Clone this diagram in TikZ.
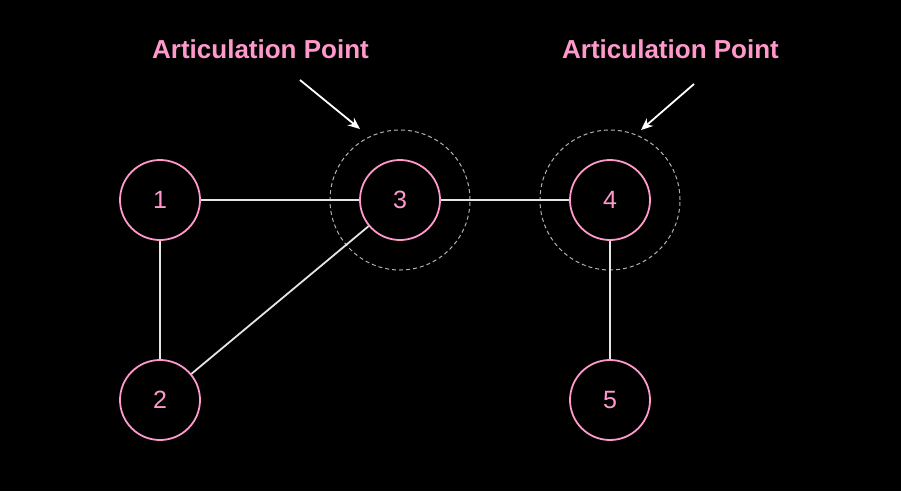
\documentclass[tikz,border=0pt]{standalone}
\usepackage{fontspec}
\setmainfont{Liberation Sans}
\usetikzlibrary{arrows.meta}
\begin{document}
\begin{tikzpicture}[x=1pt,y=-1pt,
  vert/.style={circle, draw=pinkc, line width=1.8pt, minimum size=80pt, inner sep=0pt, text=pinkc, font=\fontsize{25}{25}\selectfont},
  halo/.style={circle, draw=gray!60!white, dashed, line width=1pt, dash pattern=on 4pt off 3pt, minimum size=140pt, inner sep=0pt},
  edge/.style={draw=white!90!black, line width=1.8pt},
  lbl/.style={text=pinkc, font=\bfseries\fontsize{26}{26}\selectfont, anchor=base},
  arr/.style={draw=white, line width=1.8pt, -{Stealth[length=12pt,width=10pt]}}
]
\definecolor{pinkc}{HTML}{FF99CC}
\fill[black] (0,0) rectangle (901,491);
\useasboundingbox (0,0) rectangle (901,491);
\node[halo] (h3) at (400,200) {};
\node[halo] (h4) at (610,200) {};
\node[vert] (n1) at (160,200) {1};
\node[vert] (n2) at (160,400) {2};
\node[vert] (n3) at (400,200) {3};
\node[vert] (n4) at (610,200) {4};
\node[vert] (n5) at (610,400) {5};
\draw[edge] (n1) -- (n3);
\draw[edge] (n1) -- (n2);
\draw[edge] (n2) -- (n3);
\draw[edge] (n3) -- (n4);
\draw[edge] (n4) -- (n5);
\node[lbl] (l1) at (260.5,58.5) {Articulation Point};
\node[lbl] (l2) at (670.5,58.5) {Articulation Point};
\coordinate (a1s) at (300,80);
\coordinate (a1e) at (360,129);
\coordinate (a2s) at (694,84);
\coordinate (a2e) at (641,130);
\draw[arr] (a1s) -- (a1e);
\draw[arr] (a2s) -- (a2e);
\end{tikzpicture}
\end{document}
